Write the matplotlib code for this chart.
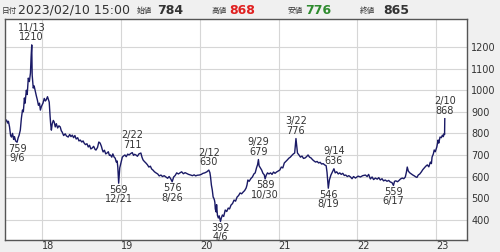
import matplotlib
matplotlib.use('Agg')
import matplotlib.pyplot as plt
import pandas as pd

plt.rcParams['font.family'] = ['DejaVu Sans', 'Noto Sans CJK JP']

# price series
dates = [
    '2017-07-14', '2017-07-19', '2017-07-24', '2017-07-28', '2017-08-02', '2017-08-07', '2017-08-11',
    '2017-08-16', '2017-08-21', '2017-08-25', '2017-08-30', '2017-09-06', '2017-09-11', '2017-09-15',
    '2017-09-21', '2017-09-26', '2017-10-01', '2017-10-05', '2017-10-10', '2017-10-13', '2017-10-19',
    '2017-10-23', '2017-10-28', '2017-11-02', '2017-11-07', '2017-11-10', '2017-11-13', '2017-11-15',
    '2017-11-20', '2017-11-24', '2017-11-30', '2017-12-04', '2017-12-09', '2017-12-14', '2017-12-19',
    '2017-12-23', '2017-12-28', '2018-01-04', '2018-01-10', '2018-01-15', '2018-01-19', '2018-01-25',
    '2018-02-02', '2018-02-06', '2018-02-09', '2018-02-12', '2018-02-16', '2018-02-21', '2018-02-25',
    '2018-03-02', '2018-03-07', '2018-03-13', '2018-03-19', '2018-03-25', '2018-03-30', '2018-04-03',
    '2018-04-10', '2018-04-17', '2018-04-23', '2018-05-01', '2018-05-08', '2018-05-14', '2018-05-20',
    '2018-05-26', '2018-06-01', '2018-06-07', '2018-06-14', '2018-06-20', '2018-06-26', '2018-07-03',
    '2018-07-09', '2018-07-14', '2018-07-20', '2018-07-27', '2018-08-02', '2018-08-08', '2018-08-14',
    '2018-08-20', '2018-08-27', '2018-09-03', '2018-09-07', '2018-09-14', '2018-09-20', '2018-09-26',
    '2018-10-02', '2018-10-06', '2018-10-10', '2018-10-16', '2018-10-22', '2018-10-28', '2018-11-03',
    '2018-11-08', '2018-11-13', '2018-11-19', '2018-11-24', '2018-11-30', '2018-12-05', '2018-12-10',
    '2018-12-14', '2018-12-17', '2018-12-21', '2018-12-26', '2018-12-31', '2019-01-07', '2019-01-12',
    '2019-01-19', '2019-01-25', '2019-02-01', '2019-02-07', '2019-02-14', '2019-02-22', '2019-02-28',
    '2019-03-05', '2019-03-11', '2019-03-18', '2019-03-25', '2019-04-03', '2019-04-08', '2019-04-13',
    '2019-04-19', '2019-04-26', '2019-05-03', '2019-05-10', '2019-05-17', '2019-05-23', '2019-05-29',
    '2019-06-05', '2019-06-12', '2019-06-20', '2019-06-27', '2019-07-05', '2019-07-12', '2019-07-20',
    '2019-07-28', '2019-08-05', '2019-08-12', '2019-08-19', '2019-08-26', '2019-09-02', '2019-09-09',
    '2019-09-16', '2019-09-24', '2019-10-01', '2019-10-09', '2019-10-17', '2019-10-25', '2019-11-02',
    '2019-11-10', '2019-11-20', '2019-11-28', '2019-12-06', '2019-12-13', '2019-12-20', '2019-12-30',
    '2020-01-08', '2020-01-16', '2020-01-24', '2020-02-03', '2020-02-12', '2020-02-17', '2020-02-20',
    '2020-02-24', '2020-02-28', '2020-03-03', '2020-03-06', '2020-03-09', '2020-03-11', '2020-03-13',
    '2020-03-17', '2020-03-19', '2020-03-23', '2020-03-27', '2020-03-31', '2020-04-06', '2020-04-10',
    '2020-04-15', '2020-04-21', '2020-04-28', '2020-05-05', '2020-05-12', '2020-05-18', '2020-05-25',
    '2020-06-01', '2020-06-08', '2020-06-15', '2020-06-22', '2020-06-29', '2020-07-06', '2020-07-13',
    '2020-07-20', '2020-07-27', '2020-08-03', '2020-08-07', '2020-08-11', '2020-08-17', '2020-08-21',
    '2020-08-26', '2020-09-01', '2020-09-08', '2020-09-14', '2020-09-20', '2020-09-25', '2020-09-29',
    '2020-10-02', '2020-10-08', '2020-10-14', '2020-10-20', '2020-10-26', '2020-10-30', '2020-11-04',
    '2020-11-10', '2020-11-17', '2020-11-24', '2020-12-01', '2020-12-08', '2020-12-15', '2020-12-22',
    '2020-12-29', '2021-01-06', '2021-01-13', '2021-01-20', '2021-01-27', '2021-02-03', '2021-02-10',
    '2021-02-17', '2021-02-24', '2021-03-03', '2021-03-10', '2021-03-16', '2021-03-22', '2021-03-25',
    '2021-03-29', '2021-04-05', '2021-04-12', '2021-04-19', '2021-04-26', '2021-05-03', '2021-05-10',
    '2021-05-17', '2021-05-24', '2021-05-31', '2021-06-07', '2021-06-14', '2021-06-21', '2021-06-28',
    '2021-07-05', '2021-07-12', '2021-07-19', '2021-07-26', '2021-08-02', '2021-08-09', '2021-08-13',
    '2021-08-19', '2021-08-24', '2021-08-31', '2021-09-07', '2021-09-14', '2021-09-20', '2021-09-27',
    '2021-10-04', '2021-10-11', '2021-10-18', '2021-10-25', '2021-11-01', '2021-11-08', '2021-11-15',
    '2021-11-22', '2021-11-30', '2021-12-07', '2021-12-14', '2021-12-23', '2022-01-04', '2022-01-15',
    '2022-01-25', '2022-02-07', '2022-02-15', '2022-02-22', '2022-03-02', '2022-03-10', '2022-03-17',
    '2022-03-25', '2022-04-03', '2022-04-10', '2022-04-17', '2022-04-25', '2022-05-02', '2022-05-10',
    '2022-05-18', '2022-05-26', '2022-06-02', '2022-06-10', '2022-06-17', '2022-06-22', '2022-06-28',
    '2022-07-06', '2022-07-13', '2022-07-20', '2022-07-28', '2022-08-04', '2022-08-11', '2022-08-16',
    '2022-08-20', '2022-08-25', '2022-09-01', '2022-09-08', '2022-09-15', '2022-09-22', '2022-09-29',
    '2022-10-04', '2022-10-10', '2022-10-17', '2022-10-24', '2022-10-31', '2022-11-07', '2022-11-14',
    '2022-11-21', '2022-11-28', '2022-12-05', '2022-12-10', '2022-12-13', '2022-12-19', '2022-12-23',
    '2022-12-28', '2023-01-04', '2023-01-10', '2023-01-13', '2023-01-19', '2023-01-25', '2023-01-30',
    '2023-02-03', '2023-02-08', '2023-02-09', '2023-02-10',
]
prices = [
    855, 862, 848, 856, 830, 790, 783,
    800, 772, 785, 765, 759, 780, 790,
    815, 870, 908, 900, 964, 940, 1000,
    980, 1056, 1040, 1080, 1155, 1210, 1070,
    1010, 1020, 992, 975, 955, 930, 940,
    908, 925, 940, 962, 950, 955, 970,
    945, 880, 840, 815, 845, 860, 853,
    830, 845, 825, 835, 830, 812, 806,
    790, 798, 788, 783, 795, 785, 792,
    780, 790, 774, 780, 765, 769, 760,
    765, 755, 748, 752, 737, 745, 728,
    732, 740, 725, 723, 735, 760, 755,
    740, 725, 714, 722, 705, 709, 715,
    698, 700, 690, 705, 690, 685, 667,
    672, 644, 569, 640, 660, 690, 695,
    700, 692, 704, 700, 706, 711, 698,
    703, 700, 694, 705, 709, 690, 677,
    670, 663, 655, 644, 648, 635, 630,
    622, 617, 612, 603, 607, 600, 604,
    598, 592, 600, 590, 576, 598, 605,
    617, 612, 617, 622, 613, 618, 614,
    610, 607, 604, 608, 603, 606, 607,
    610, 615, 617, 622, 630, 618, 598,
    560, 538, 505, 500, 491, 480, 450,
    436, 470, 420, 408, 418, 392, 408,
    422, 415, 445, 438, 454, 450, 468,
    475, 491, 486, 505, 512, 524, 520,
    528, 535, 547, 561, 584, 578, 584,
    592, 598, 612, 617, 640, 655, 679,
    650, 640, 630, 615, 608, 589, 606,
    617, 612, 617, 610, 621, 615, 621,
    625, 630, 644, 640, 663, 670, 677,
    685, 690, 698, 705, 709, 776, 745,
    709, 700, 690, 695, 684, 686, 692,
    700, 690, 686, 678, 672, 667, 670,
    663, 666, 658, 660, 654, 650, 620,
    546, 584, 607, 621, 636, 617, 622,
    612, 617, 610, 615, 605, 607, 600,
    604, 598, 590, 600, 593, 602, 598,
    604, 607, 600, 610, 589, 598, 586,
    593, 588, 595, 584, 590, 580, 584,
    578, 582, 575, 572, 559, 578, 580,
    576, 582, 589, 593, 590, 598, 620,
    644, 625, 617, 612, 607, 603, 598,
    596, 607, 612, 621, 632, 640, 648,
    654, 645, 667, 660, 690, 705, 723,
    715, 737, 769, 755, 783, 780, 792,
    785, 800, 795, 868,
]

# high / low markers
high_dates = ['2017-11-13', '2019-02-22', '2020-02-12', '2020-09-29', '2021-03-22', '2021-09-14', '2023-02-10']
high_vals = [1210, 711, 630, 679, 776, 636, 868]
high_tags = ['11/13', '2/22', '2/12', '9/29', '3/22', '9/14', '2/10']
low_dates = ['2017-09-06', '2018-12-21', '2019-08-26', '2020-04-06', '2020-10-30', '2021-08-19', '2022-06-17']
low_vals = [759, 569, 576, 392, 589, 546, 559]
low_tags = ['9/6', '12/21', '8/26', '4/6', '10/30', '8/19', '6/17']

years = [2018, 2019, 2020, 2021, 2022, 2023]
yticks = [400, 500, 600, 700, 800, 900, 1000, 1100, 1200]

txt = '#333333'

fig = plt.figure(figsize=(5, 2.52), dpi=100, facecolor='#f0f0f0')
ax = fig.add_axes([5/500, 12/252, 462/500, 221/252])
ax.set_facecolor('white')

ax.plot(pd.to_datetime(dates), prices, color='#1a1a66', lw=1.0)

for d, v, t in zip(high_dates, high_vals, high_tags):
    ax.annotate(t + '\n' + str(v), (pd.Timestamp(d), v), xytext=(0, 2),
                textcoords='offset points', ha='center', va='bottom',
                fontsize=7, color=txt, linespacing=0.95)
for d, v, t in zip(low_dates, low_vals, low_tags):
    ax.annotate(str(v) + '\n' + t, (pd.Timestamp(d), v), xytext=(0, -1),
                textcoords='offset points', ha='center', va='top',
                fontsize=7, color=txt, linespacing=0.95)

ax.set_ylim(306, 1330)
ax.set_xlim(pd.Timestamp('2017-07-12'), pd.Timestamp('2023-05-24'))

ax.set_yticks(yticks)
ax.yaxis.tick_right()
ax.tick_params(axis='y', length=0, pad=3, labelsize=7, labelcolor=txt)
ax.set_xticks([pd.Timestamp(str(y) + '-01-01') for y in years])
ax.set_xticklabels([str(y)[2:] for y in years], ha='left')
ax.tick_params(axis='x', length=0, pad=1, labelsize=7, labelcolor=txt)

ax.grid(True, color='#d6d6d6', lw=0.8)
ax.set_axisbelow(True)
for s in ax.spines.values():
    s.set_color('#555555')
    s.set_linewidth(1)

# header line
yc = 1 - 10/252
fig.text(2/500, yc, '日付', fontsize=5.5, color=txt, va='center')
fig.text(18/500, yc, '2023/02/10 15:00', fontsize=9, color=txt, va='center')
fig.text(137/500, yc, '始値', fontsize=5.5, color=txt, va='center')
fig.text(157/500, yc, '784', fontsize=9, color=txt, va='center', weight='bold')
fig.text(212/500, yc, '高値', fontsize=5.5, color=txt, va='center')
fig.text(229/500, yc, '868', fontsize=9, color='#e02020', va='center', weight='bold')
fig.text(288/500, yc, '安値', fontsize=5.5, color=txt, va='center')
fig.text(305/500, yc, '776', fontsize=9, color='#2e8b2e', va='center', weight='bold')
fig.text(360/500, yc, '終値', fontsize=5.5, color=txt, va='center')
fig.text(383/500, yc, '865', fontsize=9, color=txt, va='center', weight='bold')

fig.savefig('out.png', dpi=100, facecolor=fig.get_facecolor())
